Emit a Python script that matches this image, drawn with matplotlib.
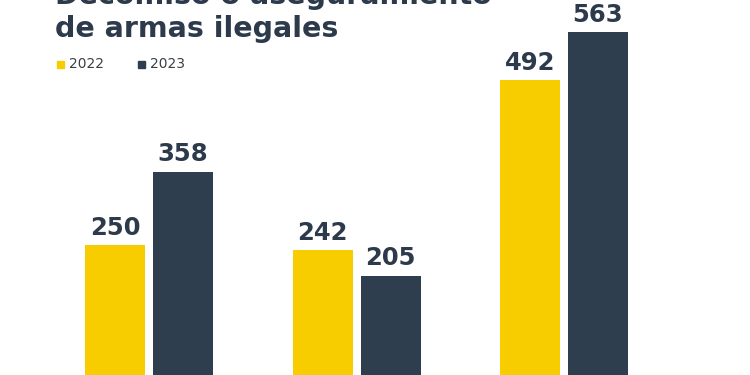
import matplotlib
matplotlib.use("Agg")
import matplotlib.pyplot as plt
import numpy as np

# data
groups = ["A", "B", "C"]
vals_2022 = [250, 242, 492]
vals_2023 = [358, 205, 563]
series_names = ["2022", "2023"]

yellow = "#F7CD00"
navy = "#2F3E4F"
textc = "#2C3A4B"

plt.rcParams['font.family'] = ['DejaVu Sans']

fig = plt.figure(figsize=(7.5, 3.75), dpi=100)
# axes runs past the bottom edge, like the cropped original
ax = fig.add_axes([0, -40 / 375, 1, 415 / 375])
ax.set_xlim(-149 / 207.5, 601 / 207.5)
ax.set_ylim(0, 415 / 0.68)
ax.axis("off")

x = np.arange(len(groups))
w = 60 / 207.5
off = 34 / 207.5
b1 = ax.bar(x - off, vals_2022, width=w, color=yellow)
b2 = ax.bar(x + off, vals_2023, width=w, color=navy)
for bars, vals in [(b1, vals_2022), (b2, vals_2023)]:
    for rect, v in zip(bars, vals):
        ax.annotate(str(v), (rect.get_x() + rect.get_width() / 2, v),
                    xytext=(0, 7.5), textcoords="offset points",
                    ha="center", va="baseline", fontsize=17.5,
                    fontweight="bold", color=textc)

# title (first line is cut by the top edge)
fig.text(55 / 750, 1 - 4 / 375, "Decomiso o aseguramiento", fontsize=20.5,
         fontweight="bold", color=textc, va="baseline", ha="left")
fig.text(55 / 750, 1 - 37 / 375, "de armas ilegales", fontsize=20.5,
         fontweight="bold", color=textc, va="baseline", ha="left")

# legend
for i, (name, c) in enumerate(zip(series_names, [yellow, navy])):
    x0 = 57 + i * 81
    fig.patches.append(plt.Rectangle((x0 / 750, 1 - 68 / 375), 7 / 750, 7 / 375,
                                     transform=fig.transFigure, color=c))
    fig.text((x0 + 12) / 750, 1 - 68 / 375, name, fontsize=10, color="#3A3F45",
             va="baseline", ha="left")

fig.savefig("out.png", dpi=100)
